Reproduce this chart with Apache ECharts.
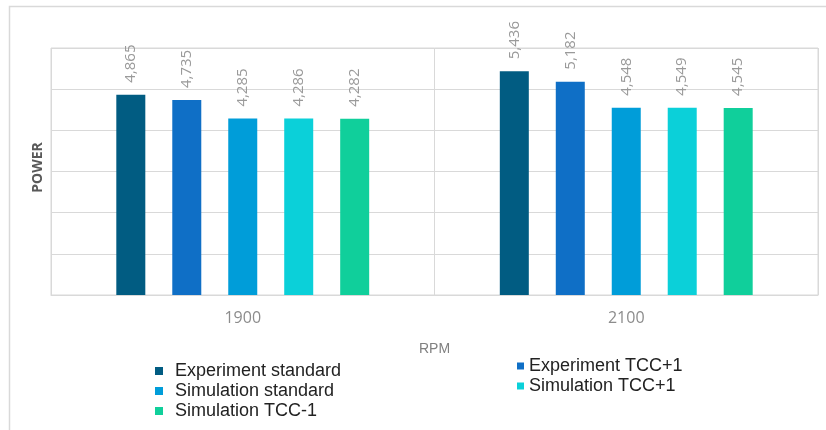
<!DOCTYPE html>
<html>
<head>
<meta charset="utf-8">
<script src="https://cdn.jsdelivr.net/npm/echarts@6/dist/echarts.min.js"></script>
<style>
html,body{margin:0;padding:0;background:#fff;}
#chart{width:826px;height:430px;}
</style>
</head>
<body>
<div id="chart"></div>
<script>
const categories = ['1900', '2100'];
const seriesNames = ['Experiment standard', 'Experiment TCC+1', 'Simulation standard', 'Simulation TCC+1', 'Simulation TCC-1'];
const experimentStandard = [4865, 5436];
const experimentTCCplus1 = [4735, 5182];
const simulationStandard = [4285, 4548];
const simulationTCCplus1 = [4286, 4549];
const simulationTCCminus1 = [4282, 4545];
const xAxisTitle = 'RPM';
const yAxisTitle = 'POWER';

const seriesValues = [experimentStandard, experimentTCCplus1, simulationStandard, simulationTCCplus1, simulationTCCminus1];
const colors = ['#015c82', '#0f6fc6', '#009dd9', '#0bd0d9', '#10cf9b'];

const chart = echarts.init(document.getElementById('chart'), null, {renderer: 'canvas'});

const legendText = {
  fontFamily: 'Liberation Sans',
  fontSize: 18,
  color: '#222',
  lineHeight: 20
};

const option = {
  animation: false,
  color: colors,
  graphic: [{
    type: 'rect',
    shape: {x: 9.5, y: 6.5, width: 840, height: 450},
    style: {fill: 'none', stroke: '#d9d9d9', lineWidth: 1.5},
    silent: true,
    z: -1
  }],
  grid: {
    left: 51, right: 8, top: 48, bottom: 135,
    show: true, borderColor: '#d9d9d9', borderWidth: 1
  },
  legend: [{
    data: [seriesNames[0], seriesNames[2], seriesNames[4]],
    orient: 'vertical',
    left: 155, top: 361, height: 66,
    padding: 0,
    itemWidth: 8, itemHeight: 8, itemGap: 0,
    icon: 'rect',
    textStyle: Object.assign({padding: [0, 0, 0, 7]}, legendText)
  }, {
    data: [seriesNames[1], seriesNames[3]],
    orient: 'vertical',
    left: 517, top: 356, height: 66,
    padding: 0,
    itemWidth: 7, itemHeight: 7, itemGap: 0,
    icon: 'rect',
    textStyle: Object.assign({padding: [0, 0, 0, 0]}, legendText)
  }],
  xAxis: {
    type: 'category',
    data: categories,
    name: xAxisTitle,
    nameLocation: 'middle',
    nameGap: 47,
    nameTextStyle: {fontFamily: 'Liberation Sans', fontSize: 14, color: '#808080'},
    axisLine: {show: true, lineStyle: {color: '#d9d9d9'}},
    axisTick: {show: false},
    axisLabel: {fontFamily: 'Open Sans', fontSize: 16, color: '#8c8c8c', margin: 15},
    splitLine: {show: true, lineStyle: {color: '#d9d9d9'}}
  },
  yAxis: {
    type: 'value',
    min: 0, max: 6000, interval: 1000,
    name: yAxisTitle,
    nameLocation: 'middle',
    nameGap: 6,
    nameTextStyle: {fontFamily: 'Open Sans', fontSize: 14, fontWeight: 'bold', color: '#595959', padding: [0, 0, 0, 8]},
    axisLabel: {show: false},
    axisLine: {show: false},
    axisTick: {show: false},
    splitLine: {lineStyle: {color: '#d9d9d9'}}
  },
  series: seriesNames.map((name, i) => ({
    name: name,
    type: 'bar',
    data: seriesValues[i],
    barWidth: 29,
    barGap: '93%',
    itemStyle: {color: colors[i]},
    label: {
      show: true,
      position: 'top',
      rotate: 90,
      align: 'left',
      verticalAlign: 'middle',
      distance: 12,
      fontFamily: 'Open Sans',
      fontSize: 15,
      color: '#9a9a9a',
      formatter: p => p.value.toLocaleString('en-US')
    }
  }))
};
chart.setOption(option);
</script>
</body>
</html>
